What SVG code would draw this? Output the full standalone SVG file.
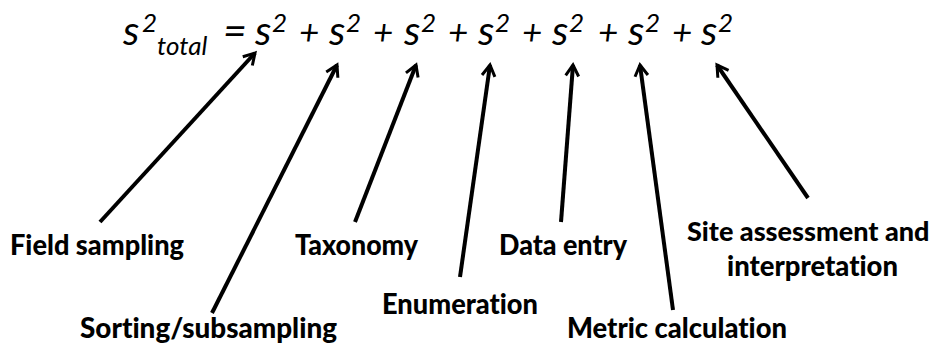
<svg xmlns="http://www.w3.org/2000/svg" width="940" height="352" viewBox="0 0 940 352">
  <defs>
    <marker id="arr" markerUnits="userSpaceOnUse" markerWidth="30" markerHeight="30" viewBox="-15 -15 30 30" refX="0" refY="0" orient="auto" overflow="visible">
      <path d="M -11 -6.5 L 0 0 L -11 6.5" fill="none" stroke="#000" stroke-width="3" stroke-linejoin="miter"/>
    </marker>
    <style>
      .eq { font-family: Lato, "Open Sans", sans-serif; font-style: italic; fill: #000; }
      .b { font-size: 41px; }
      .p { font-size: 35px; }
      .sup { font-size: 26px; }
      .lbl { font-family: Lato, "Open Sans", sans-serif; font-weight: 900; font-size: 29px; fill: #000; font-variant-ligatures: none; }
      .con line { stroke: #000; stroke-width: 4; marker-end: url(#arr); }
    </style>
  </defs>
  <rect width="940" height="352" fill="#fff"/>

  <g id="equation" class="eq">
    <text class="b" x="123" y="45">s</text>
    <text class="sup" x="142" y="32">2</text>
    <text class="sup" x="157" y="55">total</text>
    <text class="b" x="223" y="45">=</text>
    <text class="b" x="255" y="45">s</text><text class="sup" x="272" y="32">2</text><text class="p" x="299" y="45">+</text>
    <text class="b" x="329" y="45">s</text><text class="sup" x="346" y="32">2</text><text class="p" x="373" y="45">+</text>
    <text class="b" x="404" y="45">s</text><text class="sup" x="421" y="32">2</text><text class="p" x="448" y="45">+</text>
    <text class="b" x="478" y="45">s</text><text class="sup" x="495" y="32">2</text><text class="p" x="522" y="45">+</text>
    <text class="b" x="552" y="45">s</text><text class="sup" x="569" y="32">2</text><text class="p" x="598" y="45">+</text>
    <text class="b" x="628" y="45">s</text><text class="sup" x="645" y="32">2</text><text class="p" x="672" y="45">+</text>
    <text class="b" x="701" y="45">s</text><text class="sup" x="718" y="32">2</text>
  </g>

  <g id="connectors" class="con">
    <line x1="100" y1="222" x2="255" y2="53"/>
    <line x1="212" y1="313" x2="337" y2="65"/>
    <line x1="355" y1="222" x2="416" y2="65"/>
    <line x1="460" y1="277" x2="490" y2="65"/>
    <line x1="561" y1="222" x2="573" y2="65"/>
    <line x1="673" y1="310" x2="640" y2="65"/>
    <line x1="808" y1="198" x2="717" y2="65"/>
  </g>

  <g id="field-sampling"><text class="lbl" x="10" y="255" textLength="174" lengthAdjust="spacingAndGlyphs">Field sampling</text></g>
  <g id="sorting-subsampling"><text class="lbl" x="80" y="338" textLength="257" lengthAdjust="spacingAndGlyphs">Sorting/subsampling</text></g>
  <g id="taxonomy"><text class="lbl" x="295" y="255" textLength="123" lengthAdjust="spacingAndGlyphs">Taxonomy</text></g>
  <g id="enumeration"><text class="lbl" x="382" y="314" textLength="156" lengthAdjust="spacingAndGlyphs">Enumeration</text></g>
  <g id="data-entry"><text class="lbl" x="499" y="255" textLength="128" lengthAdjust="spacingAndGlyphs">Data entry</text></g>
  <g id="metric-calculation"><text class="lbl" x="567" y="338" textLength="220" lengthAdjust="spacingAndGlyphs">Metric calculation</text></g>
  <g id="site-assessment">
    <text class="lbl" x="687" y="241" style="font-size:27px">Site assessment and</text>
    <text class="lbl" x="727" y="276" textLength="171" lengthAdjust="spacingAndGlyphs">interpretation</text>
  </g>
</svg>
